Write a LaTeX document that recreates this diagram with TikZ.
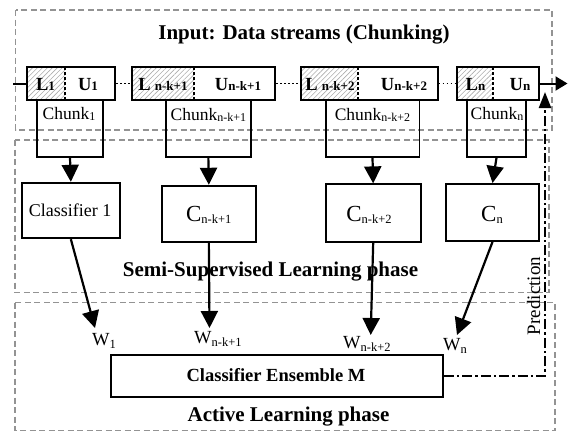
\documentclass[tikz,border=0pt]{standalone}
\usepackage{fontspec}
\setmainfont{Liberation Serif}
\usetikzlibrary{arrows.meta,patterns.meta}
\newcommand\fsz[1]{\fontsize{#1}{#1}\selectfont}
\newcommand\dsub[3]{\raisebox{-#1}{\fsz{#2}#3}}
\begin{document}
\begin{tikzpicture}[x=1pt,y=-1pt,
  phase/.style={draw=gray!85, line width=1.2pt, dash pattern=on 6pt off 3.5pt},
  lubox/.style={draw=black, line width=2pt, inner sep=0pt, minimum height=33pt},
  hatch/.style={pattern={Lines[angle=45,distance=3.5pt,line width=0.6pt]}, pattern color=gray!65},
  divider/.style={draw=black, line width=1.5pt, dash pattern=on 3pt off 2pt},
  chunkbox/.style={draw=black, line width=1.6pt, inner sep=0pt, minimum height=57pt},
  clsbox/.style={draw=black, line width=1.8pt, inner sep=0pt},
  arr/.style={-{Triangle[length=17pt,width=17pt]}, line width=2.2pt},
  dotline/.style={line width=1.6pt, dash pattern=on 1.6pt off 2.4pt},
  pred/.style={line width=2.2pt, dash pattern=on 10pt off 3pt on 2.5pt off 3pt},
  txt/.style={inner sep=0pt, anchor=base},
  wtxt/.style={inner sep=0pt, anchor=base west},
]
\useasboundingbox (0,0) rectangle (568,432);

% phase boxes
\draw[phase] (15.5,10) rectangle (552,130);
\draw[phase] (15,140) rectangle (549,292.7);
\draw[phase] (15,302.7) rectangle (555,430.7);

% labelled / unlabelled hatch areas
\fill[hatch] (26.7,67) rectangle (65,100);
\fill[hatch] (132,67) rectangle (194,100);
\fill[hatch] (301,67) rectangle (358,100);
\fill[hatch] (457,67) rectangle (493,100);

% chunk boxes (L|U)
\node[lubox, minimum width=88.3pt] (b1) at (70.85,83.5) {};
\node[lubox, minimum width=143pt] (b2) at (203.5,83.5) {};
\node[lubox, minimum width=136.7pt] (b3) at (369.35,83.5) {};
\node[lubox, minimum width=82pt] (b4) at (498,83.5) {};
\draw[divider] (65,67) -- (65,100);
\draw[divider] (194,67) -- (194,100);
\draw[divider] (358,67) -- (358,100);
\draw[divider] (493,67) -- (493,100);

% chunk label boxes
\node[chunkbox, minimum width=66pt] (ch1) at (70,128.5) {};
\node[chunkbox, minimum width=85.3pt] (ch2) at (208.35,128.5) {};
\node[chunkbox, minimum width=93.6pt] (ch3) at (372.5,128.5) {};
\node[chunkbox, minimum width=59pt] (ch4) at (496.5,128.5) {};

% classifiers
\node[clsbox, minimum width=98.3pt, minimum height=55.6pt] (c1) at (70.85,210.5) {};
\node[clsbox, minimum width=94.3pt, minimum height=56.6pt] (c2) at (208.85,214) {};
\node[clsbox, minimum width=95pt, minimum height=57.4pt] (c3) at (373.2,213) {};
\node[clsbox, minimum width=93pt, minimum height=57pt] (c4) at (492.5,212.5) {};

% ensemble
\node[clsbox, minimum width=332pt, minimum height=42pt] (ens) at (277,376) {};

% texts
\node[txt] (title) at (304,39.5) {\fsz{21}\bfseries Input: Data streams (Chunking)};
\node[txt] (l1) at (45.5,90.5) {\fsz{18.5}\bfseries L{\fsz{13}1}};
\node[txt] (u1) at (88,90.5) {\fsz{18.5}\bfseries U{\fsz{13}1}};
\node[txt] (l2) at (163,90.5) {\fsz{18.5}\bfseries L\hspace{4pt}{\fsz{13}n-k+1}};
\node[txt] (u2) at (238,90.5) {\fsz{18.5}\bfseries U{\fsz{13}n-k+1}};
\node[txt] (l3) at (330,90.5) {\fsz{18.5}\bfseries L\hspace{4pt}{\fsz{13}n-k+2}};
\node[txt] (u3) at (404,90.5) {\fsz{18.5}\bfseries U{\fsz{13}n-k+2}};
\node[txt] (l4) at (475.5,90.5) {\fsz{18.5}\bfseries L{\fsz{13}n}};
\node[txt] (u4) at (520,90.5) {\fsz{18.5}\bfseries U{\fsz{13}n}};

\node[txt] (t1) at (69,119) {\fsz{17.5}Chunk\dsub{1.5pt}{12}{1}};
\node[txt] (t2) at (208.35,120) {\fsz{17.5}Chunk\dsub{1.5pt}{12}{n-k+1}};
\node[txt] (t3) at (372.5,120) {\fsz{17.5}Chunk\dsub{1.5pt}{12}{n-k+2}};
\node[txt] (t4) at (497,119) {\fsz{17.5}Chunk\dsub{1.5pt}{12}{n}};

\node[txt] (k1) at (70,216.7) {\fsz{18}Classifier 1};
\node[txt] (k2) at (208.8,221.5) {\fsz{23}C\dsub{1.5pt}{12.5}{n-k+1}};
\node[txt] (k3) at (369,221.5) {\fsz{23}C\dsub{1.5pt}{12.5}{n-k+2}};
\node[txt] (k4) at (492,221.5) {\fsz{23}C\dsub{1.5pt}{12.5}{n}};

\node[txt] (semi) at (270.5,276.7) {\fsz{21}\bfseries Semi-Supervised Learning phase};

\node[wtxt] (w1) at (92,345) {\fsz{18.5}W\dsub{3pt}{12.5}{1}};
\node[wtxt] (w2) at (194,343) {\fsz{18.5}W\dsub{3pt}{12.5}{n-k+1}};
\node[wtxt] (w3) at (343,348) {\fsz{18.5}W\dsub{3pt}{12.5}{n-k+2}};
\node[wtxt] (w4) at (443,350) {\fsz{18.5}W\dsub{3pt}{12.5}{n}};

\node[txt] (enslbl) at (276,381.5) {\fsz{18.5}\bfseries Classifier Ensemble M};
\node[txt] (active) at (288.5,421) {\fsz{21}\bfseries Active Learning phase};
\node[inner sep=0pt, rotate=90] (predlbl) at (533.5,296) {\fsz{19}Prediction};

% stream connectors
\coordinate (inl) at (13,83.5);
\coordinate (outr) at (567.5,83.5);
\draw[line width=2pt] (inl) -- (b1.west);
\draw[dotline] (b1.east) -- (b2.west);
\draw[dotline] (b2.east) -- (b3.west);
\draw[dotline] (b3.east) -- (b4.west);
\draw[line width=2pt, -{Triangle[length=12pt,width=14pt]}] (b4.east) -- (outr);

% chunk -> classifier
\draw[arr] (ch1.south) -- (c1.north);
\draw[arr] (ch2.south) -- (c2.north);
\draw[arr] (ch3.south) -- (c3.north);
\draw[arr] (ch4.south) -- (c4.north);

% classifier -> weights
\coordinate (w1tip) at (95,328);
\coordinate (w2tip) at (209.5,328);
\coordinate (w3tip) at (370.7,335);
\coordinate (w4tip) at (457,335);
\draw[arr] (c1.south) -- (w1tip);
\draw[arr] (c2.south) -- (w2tip);
\draw[arr] (c3.south) -- (w3tip);
\draw[arr] (c4.south) -- (w4tip);

% prediction feedback
\coordinate (pcorner) at (545,376);
\coordinate (ptip) at (545,92);
\draw[pred, -{Triangle[length=16pt,width=12pt]}] (ens.east) -- (pcorner) -- (ptip);
\end{tikzpicture}
\end{document}
